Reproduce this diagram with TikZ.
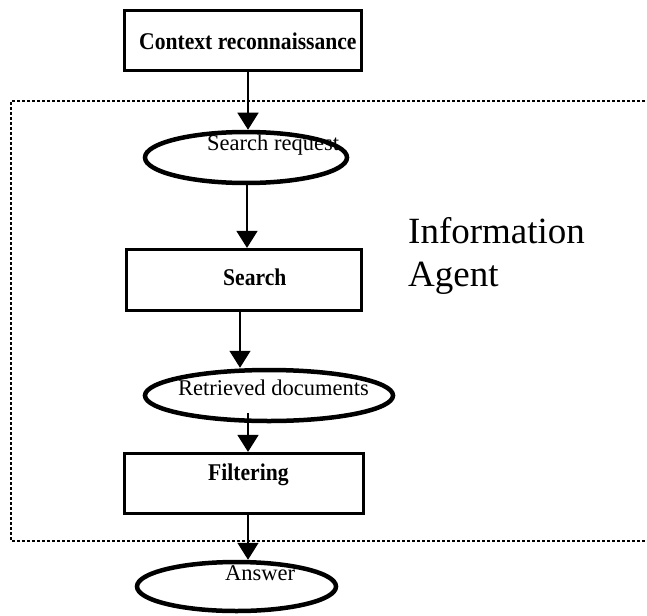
\documentclass[tikz,border=0pt]{standalone}
\usepackage{fontspec}
\setmainfont{Liberation Serif}
\newfontfamily\boxfont[FakeStretch=0.9]{Liberation Serif Bold}
\usetikzlibrary{arrows.meta,shapes.geometric}

\tikzset{
  stepbox/.style={draw, line width=3.2pt, rectangle, inner sep=0pt},
  dataoval/.style={draw, line width=4.5pt, ellipse, inner sep=0pt},
  boxtext/.style={anchor=base west, inner sep=0pt, font=\boxfont\fontsize{24}{28}\selectfont},
  ovaltext/.style={anchor=base west, inner sep=0pt, font=\fontsize{22.5}{26}\selectfont},
  flow/.style={line width=1.5pt, -{Triangle[length=17pt,width=21pt]}},
  frame/.style={line width=2pt, dash pattern=on 3pt off 2pt}
}

\begin{document}
\begin{tikzpicture}[x=1pt,y=-1pt]
\useasboundingbox (0,0) rectangle (647,615);

% agent boundary, open on the right
\coordinate (ftr) at (650,101);
\coordinate (ftl) at (11,101);
\coordinate (fbl) at (11,541);
\coordinate (fbr) at (650,541);
\draw[frame] (ftr) -- (ftl) -- (fbl) -- (fbr);

% processing steps
\node[stepbox, minimum width=237pt, minimum height=60pt] (ctx) at (243,40.5) {};
\node[stepbox, minimum width=235pt, minimum height=61pt] (srch) at (244,280) {};
\node[stepbox, minimum width=239pt, minimum height=60pt] (filt) at (244,483.5) {};

% data items
\node[dataoval, minimum width=202pt, minimum height=51pt] (req) at (246,157.5) {};
\node[dataoval, minimum width=248pt, minimum height=51pt] (ret) at (269,395.5) {};
\node[dataoval, minimum width=199pt, minimum height=49pt] (ans) at (236.5,586.5) {};

% labels
\node[boxtext] (ctxl) at (139,50) {Context reconnaissance};
\node[boxtext] (srchl) at (223,285.5) {Search};
\node[boxtext] (filtl) at (208,480) {Filtering};
\node[ovaltext] (reql) at (207,150.5) {Search request};
\node[ovaltext] (retl) at (178,395) {Retrieved documents};
\node[ovaltext] (ansl) at (225,580.5) {Answer};
\node[anchor=base west, inner sep=0pt, align=left,
      font=\fontsize{37}{43}\selectfont] (agent) at (408,286.5) {Information\\Agent};

% flow
\coordinate (c1) at (248,0);
\coordinate (c2) at (247,0);
\coordinate (c3) at (240,0);
\coordinate (c4) at (248,413);
\draw[flow] (ctx.south -| c1) -- (req.north -| c1);
\draw[flow] (req.south -| c2) -- (srch.north -| c2);
\draw[flow] (srch.south -| c3) -- (ret.north -| c3);
\draw[flow] (c4) -- (filt.north -| c4);
\draw[flow] (filt.south -| c1) -- (ans.north -| c1);
\end{tikzpicture}
\end{document}
